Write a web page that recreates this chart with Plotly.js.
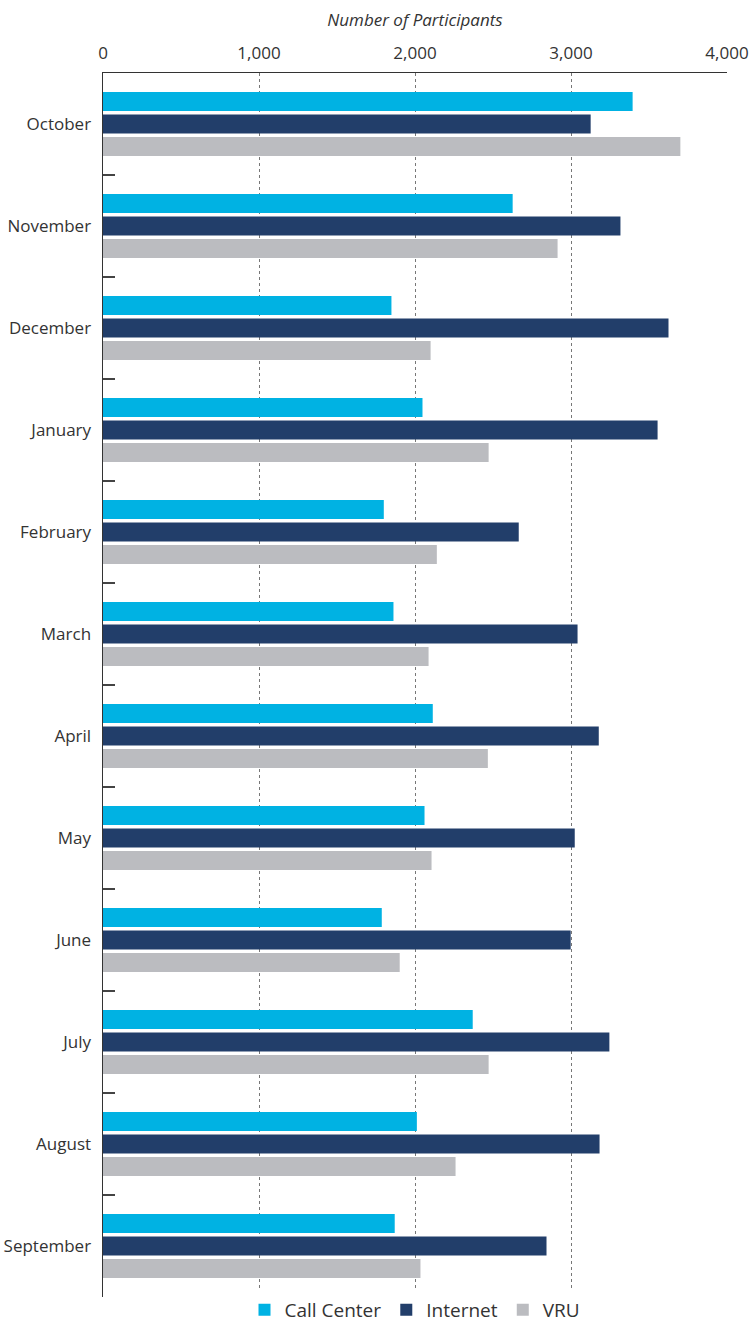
<!DOCTYPE html>
<html>
<head>
<meta charset="utf-8">
<script src="https://cdn.plot.ly/plotly-3.0.1.min.js"></script>
<style>html,body{margin:0;padding:0;background:#fff;}#chart{width:750px;height:1329px;}</style>
</head>
<body>
<div id="chart"></div>
<script>
const months = ["October","November","December","January","February","March","April","May","June","July","August","September"];
const callCenter = [3395, 2626, 1849, 2048, 1800, 1862, 2114, 2061, 1787, 2370, 2012, 1870];
const internet   = [3126, 3317, 3625, 3555, 2665, 3042, 3178, 3024, 2998, 3246, 3183, 2843];
const vru        = [3701, 2914, 2100, 2472, 2140, 2087, 2467, 2106, 1902, 2472, 2260, 2035];
const seriesNames = ["Call Center", "Internet", "VRU"];
const seriesColors = ["#00B2E3", "#223E6A", "#BBBCC0"];
const xTickVals = [0, 1000, 2000, 3000, 4000];

const font = "'Open Sans', 'Liberation Sans', sans-serif";
const allSeries = [callCenter, internet, vru];
const traces = allSeries.map((vals, i) => ({
  type: "bar",
  orientation: "h",
  name: seriesNames[i],
  x: vals,
  y: months,
  marker: { color: seriesColors[i], line: { width: 0 } },
  hoverinfo: "x+name"
}));

const layout = {
  width: 750,
  height: 1329,
  margin: { l: 103, r: 23, t: 73, b: 32, autoexpand: false },
  paper_bgcolor: "#fff",
  plot_bgcolor: "#fff",
  barmode: "group",
  bargap: 0.34,
  bargroupgap: 0.15,
  font: { family: font, color: "#333", size: 16 },
  showlegend: true,
  legend: {
    orientation: "h",
    xref: "paper",
    x: 0.5, xanchor: "center",
    yref: "container",
    y: 0, yanchor: "bottom",
    font: { size: 19, color: "#333" },
    itemwidth: 30,
    traceorder: "normal"
  },
  xaxis: {
    side: "top",
    range: [0, 4000],
    tickvals: xTickVals,
    tickformat: ",d",
    showgrid: true,
    gridcolor: "#777",
    griddash: "dot",
    gridwidth: 1,
    zeroline: false,
    showline: true,
    linecolor: "#333",
    linewidth: 1.5,
    ticks: "outside",
    ticklen: 6,
    tickcolor: "rgba(0,0,0,0)",
    tickfont: { size: 17, color: "#333" },
    title: { text: "<i>Number of Participants</i>", font: { size: 17, color: "#333" }, standoff: 10 },
    fixedrange: true
  },
  yaxis: {
    type: "category",
    autorange: "reversed",
    showgrid: false,
    zeroline: false,
    showline: true,
    linecolor: "#333",
    linewidth: 1.5,
    ticks: "inside",
    tickson: "boundaries",
    ticklen: 12,
    tickwidth: 1.5,
    tickcolor: "#444",
    ticklabelstandoff: 7,
    tickfont: { size: 17, color: "#333" },
    fixedrange: true
  }
};

Plotly.newPlot("chart", traces, layout, { displayModeBar: false, staticPlot: true });
</script>
</body>
</html>
